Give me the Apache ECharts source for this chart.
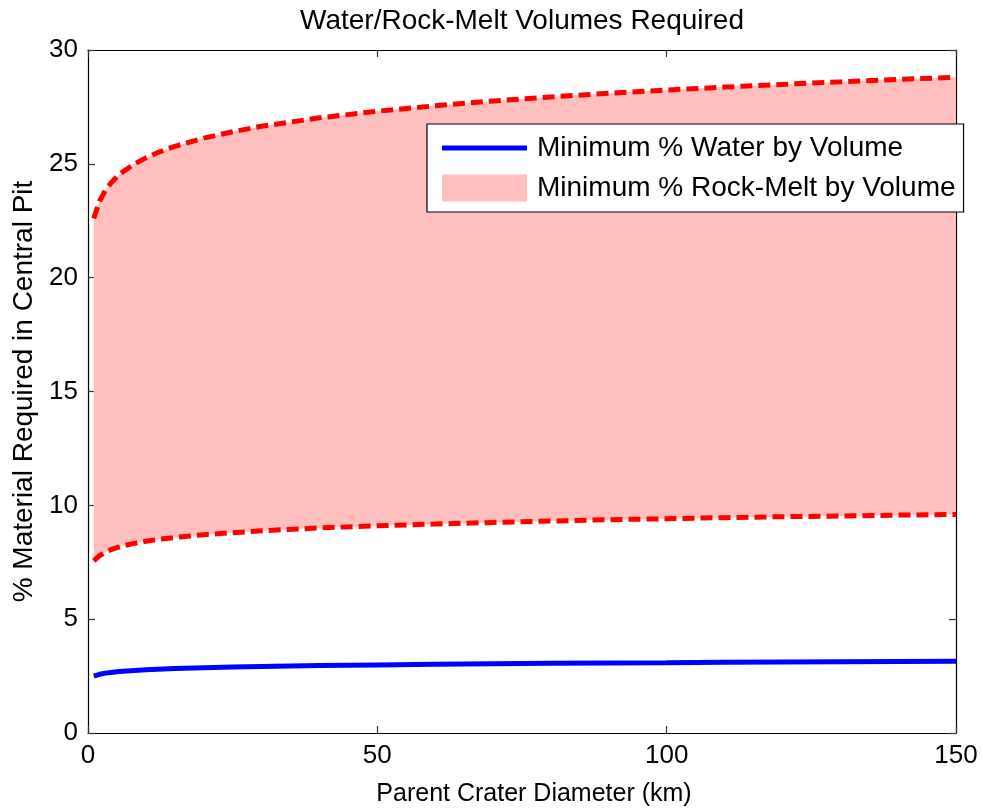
<!DOCTYPE html>
<html>
<head>
<meta charset="utf-8">
<title>Water/Rock-Melt Volumes Required</title>
<script src="https://cdn.jsdelivr.net/npm/echarts@6/dist/echarts.min.js"></script>
<style>
  html, body { margin: 0; padding: 0; background: #ffffff; }
  #chart { width: 983px; height: 812px; }
</style>
</head>
<body>
<div id="chart"></div>
<script>
// Parent crater diameter (km)
const diameters = [1, 2, 3, 4, 5, 6, 8, 10, 12, 15, 20, 25, 30, 40, 50, 60, 70, 80, 90, 100, 110, 120, 130, 140, 150];

// Upper bound of the rock-melt band (%)
const meltUpper = [22.60, 23.37, 23.83, 24.17, 24.43, 24.65, 24.99, 25.26, 25.49, 25.77, 26.13, 26.41, 26.65, 27.02, 27.31, 27.55, 27.76, 27.94, 28.10, 28.24, 28.37, 28.49, 28.60, 28.71, 28.80];

// Lower bound of the rock-melt band (%)
const meltLower = [7.56, 7.79, 7.94, 8.06, 8.14, 8.22, 8.33, 8.42, 8.50, 8.59, 8.71, 8.80, 8.88, 9.01, 9.10, 9.18, 9.25, 9.31, 9.37, 9.41, 9.46, 9.50, 9.53, 9.57, 9.60];

// Minimum water content (%)
const waterMin = [2.50, 2.58, 2.63, 2.66, 2.69, 2.71, 2.75, 2.78, 2.80, 2.83, 2.87, 2.90, 2.92, 2.96, 2.99, 3.02, 3.04, 3.06, 3.08, 3.09, 3.11, 3.12, 3.13, 3.14, 3.15];

const xTicks = [0, 50, 100, 150];
const yTicks = [0, 5, 10, 15, 20, 25, 30];

const FONT = "'Liberation Sans', Arial, Helvetica, sans-serif";
const pair = (ys) => diameters.map((x, i) => [x, ys[i]]);

const axisLine = { show: true, onZero: false, lineStyle: { color: '#000000', width: 1.2 } };
const axisTick = { show: true, inside: true, length: 7, lineStyle: { color: '#333333', width: 1.2 } };

// Legend swatch: a 5px bar across the middle of an 85x27 box
// (the two tiny corner squares pin the bounding box so the bar keeps its thickness)
const LINE_ICON = 'path://M0,0h0.01v0.01h-0.01z M0,11h85v5h-85z M84.99,26.99h0.01v0.01h-0.01z';

// Filled polygon between the lower and upper rock-melt curves
function renderBand(params, api) {
  if (params.dataIndex !== 0) return null;
  const top = diameters.map((x, i) => api.coord([x, meltUpper[i]]));
  const bottom = diameters.map((x, i) => api.coord([x, meltLower[i]])).reverse();
  return {
    type: 'polygon',
    shape: { points: top.concat(bottom) },
    style: { fill: '#ffbfbf', stroke: null }
  };
}

const chart = echarts.init(document.getElementById('chart'), null, { renderer: 'canvas' });

chart.setOption({
  backgroundColor: '#ffffff',
  animation: false,
  title: {
    text: 'Water/Rock-Melt Volumes Required',
    left: 295,
    top: 2,
    textStyle: { fontFamily: FONT, fontSize: 28, fontWeight: 'normal', color: '#000000' }
  },
  grid: { left: 88, right: 27, top: 50, bottom: 77, containLabel: false },
  legend: {
    orient: 'vertical',
    left: 427,
    top: 124,
    padding: [10, 8, 10, 15],
    itemGap: 12,
    itemWidth: 85,
    itemHeight: 27,
    backgroundColor: '#ffffff',
    borderColor: '#000000',
    borderWidth: 1.2,
    borderRadius: 0,
    textStyle: { fontFamily: FONT, fontSize: 28, color: '#000000', lineHeight: 27, padding: [0, 0, 0, 5] },
    data: [
      { name: 'Minimum % Water by Volume', icon: LINE_ICON, itemStyle: { color: '#0000ff' } },
      { name: 'Minimum % Rock-Melt by Volume', icon: 'rect', itemStyle: { color: '#ffbfbf' } }
    ]
  },
  xAxis: [
    {
      type: 'value', min: 0, max: 150, interval: 50,
      name: 'Parent Crater Diameter (km)',
      nameLocation: 'middle', nameGap: 49,
      nameTextStyle: { fontFamily: FONT, fontSize: 25, color: '#000000', padding: [0, 0, 0, 24] },
      axisLine: axisLine, axisTick: axisTick,
      axisLabel: { margin: 10, fontFamily: FONT, fontSize: 26, color: '#000000',
        formatter: (v) => xTicks.includes(v) ? String(v) : '' },
      splitLine: { show: false }
    },
    {
      type: 'value', min: 0, max: 150, interval: 50, position: 'top',
      axisLine: axisLine, axisTick: axisTick,
      axisLabel: { show: false }, splitLine: { show: false }
    }
  ],
  yAxis: [
    {
      type: 'value', min: 0, max: 30, interval: 5,
      name: '% Material Required in Central Pit',
      nameLocation: 'middle', nameGap: 47,
      nameTextStyle: { fontFamily: FONT, fontSize: 28, color: '#000000' },
      axisLine: axisLine, axisTick: axisTick,
      axisLabel: { margin: 10, fontFamily: FONT, fontSize: 26, color: '#000000',
        formatter: (v) => yTicks.includes(v) ? String(v) : '' },
      splitLine: { show: false }
    },
    {
      type: 'value', min: 0, max: 30, interval: 5, position: 'right',
      axisLine: axisLine, axisTick: axisTick,
      axisLabel: { show: false }, splitLine: { show: false }
    }
  ],
  series: [
    {
      name: 'Minimum % Rock-Melt by Volume',
      type: 'custom',
      renderItem: renderBand,
      data: pair(meltLower),
      itemStyle: { color: '#ffbfbf' },
      silent: true,
      z: 1
    },
    // dashed outline of the band
    {
      name: 'melt-upper',
      type: 'line',
      data: pair(meltUpper),
      symbol: 'none',
      lineStyle: { color: '#ff0000', width: 5, type: [12, 6] },
      z: 3
    },
    {
      name: 'melt-lower',
      type: 'line',
      data: pair(meltLower),
      symbol: 'none',
      lineStyle: { color: '#ff0000', width: 5, type: [12, 6] },
      z: 3
    },
    {
      name: 'Minimum % Water by Volume',
      type: 'line',
      data: pair(waterMin),
      symbol: 'none',
      itemStyle: { color: '#0000ff' },
      lineStyle: { color: '#0000ff', width: 5 },
      z: 4
    },
    // binds the top and right frame axes
    {
      name: 'frame',
      type: 'line',
      xAxisIndex: 1,
      yAxisIndex: 1,
      data: [],
      symbol: 'none',
      silent: true
    }
  ]
});
</script>
</body>
</html>
